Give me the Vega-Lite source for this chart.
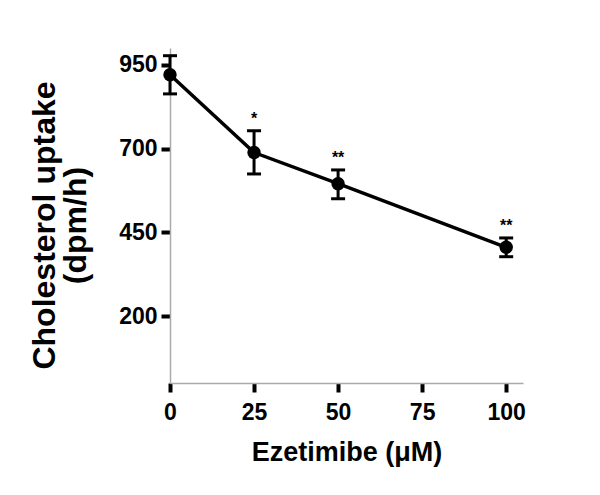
{
  "$schema": "https://vega.github.io/schema/vega-lite/v6.json",
  "width": 353,
  "height": 335,
  "autosize": "none",
  "padding": {"left": 170, "top": 48, "right": 77, "bottom": 112},
  "background": "white",
  "config": {"view": {"stroke": null}, "font": "Liberation Sans"},
  "data": {"values": [
    {"dose": 0, "mean": 920, "lo": 863, "hi": 977, "sig": ""},
    {"dose": 25, "mean": 688, "lo": 624, "hi": 753, "sig": "*"},
    {"dose": 50, "mean": 595, "lo": 550, "hi": 636, "sig": "**"},
    {"dose": 100, "mean": 405, "lo": 377, "hi": 433, "sig": "**"}
  ]},
  "encoding": {
    "x": {"field": "dose", "type": "quantitative",
      "scale": {"domain": [0, 105], "nice": false},
      "axis": {"values": [0, 25, 50, 75, 100], "title": "Ezetimibe (μM)", "grid": false, "labelFlush": false,
        "domainColor": "#aaaaaa", "domainWidth": 1.5, "tickColor": "black", "tickWidth": 4, "tickSize": 9,
        "labelFont": "Liberation Sans", "labelFontWeight": "bold", "labelFontSize": 23, "labelColor": "black", "labelPadding": 9,
        "titleFont": "Liberation Sans", "titleFontWeight": "bold", "titleFontSize": 27, "titleColor": "black", "titlePadding": 15}}
  },
  "layer": [
    {"mark": {"type": "line", "color": "black", "strokeWidth": 3.5},
     "encoding": {"y": {"field": "mean", "type": "quantitative", "title": ["Cholesterol uptake", "(dpm/h)"],
       "scale": {"domain": [0, 1000], "nice": false},
       "axis": {"values": [200, 450, 700, 950], "grid": false, "labelFlush": false,
         "domainColor": "#aaaaaa", "domainWidth": 1.5, "tickColor": "black", "tickWidth": 4, "tickSize": 9,
         "labelFont": "Liberation Sans", "labelFontWeight": "bold", "labelFontSize": 23, "labelColor": "black", "labelPadding": 4,
         "titleFont": "Liberation Sans", "titleFontWeight": "bold", "titleFontSize": 32, "titleColor": "black", "titlePadding": 26, "titleY": 177, "titleLineHeight": 31}}}},
    {"mark": {"type": "rule", "color": "black", "strokeWidth": 3},
     "encoding": {"y": {"field": "lo", "type": "quantitative", "title": ["Cholesterol uptake", "(dpm/h)"]}, "y2": {"field": "hi"}}},
    {"mark": {"type": "tick", "color": "black", "orient": "horizontal", "size": 14, "thickness": 3, "opacity": 1},
     "encoding": {"y": {"field": "lo", "type": "quantitative", "title": ["Cholesterol uptake", "(dpm/h)"]}}},
    {"mark": {"type": "tick", "color": "black", "orient": "horizontal", "size": 14, "thickness": 3, "opacity": 1},
     "encoding": {"y": {"field": "hi", "type": "quantitative", "title": ["Cholesterol uptake", "(dpm/h)"]}}},
    {"mark": {"type": "point", "filled": true, "color": "black", "opacity": 1, "size": 180, "shape": "circle"},
     "encoding": {"y": {"field": "mean", "type": "quantitative", "title": ["Cholesterol uptake", "(dpm/h)"]}}},
    {"mark": {"type": "text", "fontSize": 16, "fontWeight": "bold", "color": "black", "baseline": "bottom", "dy": -4},
     "encoding": {"y": {"field": "hi", "type": "quantitative", "title": ["Cholesterol uptake", "(dpm/h)"]}, "text": {"field": "sig"}}}
  ]
}
